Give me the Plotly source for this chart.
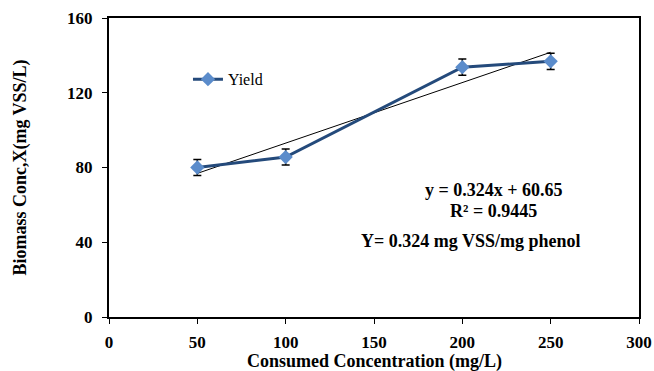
import plotly.graph_objects as go

conc = [50, 100, 200, 250]
biomass = [80.0, 85.6, 133.7, 136.8]
err = [4.3, 4.3, 4.3, 4.3]
slope = 0.324
intercept = 60.65
trend_x = [50, 250]
trend_y = [slope * x + intercept for x in trend_x]
x_ticks = [0, 50, 100, 150, 200, 250, 300]
y_ticks = [0, 40, 80, 120, 160]

font = "Liberation Serif, Times New Roman, serif"

fig = go.Figure()
fig.add_trace(go.Scatter(
    x=trend_x, y=trend_y, mode="lines",
    line=dict(color="black", width=1), showlegend=False, hoverinfo="skip"))
fig.add_trace(go.Scatter(
    x=conc, y=biomass, mode="lines+markers", name="Yield",
    line=dict(color="#244a7b", width=3),
    marker=dict(symbol="diamond", size=11, color="#5b8ccb"),
    error_y=dict(type="data", array=err, color="black", thickness=1.5, width=4)))

fig.update_layout(
    width=654, height=371,
    margin=dict(l=109, r=15, t=18, b=54),
    paper_bgcolor="white", plot_bgcolor="white",
    font=dict(family=font, color="black"),
    legend=dict(x=0.149, y=0.795, xanchor="left", yanchor="middle",
                bgcolor="rgba(0,0,0,0)", font=dict(size=16, family=font)),
    xaxis=dict(range=[0, 300], tickvals=x_ticks, showgrid=False, zeroline=False,
               showline=True, linecolor="black", linewidth=2, mirror=True,
               ticks="outside", ticklen=5, tickcolor="black", automargin=False,
               ticklabelstandoff=4,
               tickfont=dict(size=17, family=font, weight="bold")),
    yaxis=dict(range=[0, 160], tickvals=y_ticks, showgrid=False, zeroline=False,
               showline=True, linecolor="black", linewidth=2, mirror=True,
               ticks="outside", ticklen=5, tickcolor="black", automargin=False,
               ticklabelstandoff=6,
               tickfont=dict(size=17, family=font, weight="bold"),
               title=dict(text="<b>Biomass Conc,X(mg VSS/L)</b>",
                          font=dict(size=18, family=font), standoff=36)),
)

# x-axis title placed just under the tick labels
fig.add_annotation(x=0.5, y=-0.15, xref="paper", yref="paper",
                   xanchor="center", yanchor="middle",
                   text="<b>Consumed Concentration (mg/L)</b>", showarrow=False,
                   font=dict(size=18, family=font))

ann_font = dict(size=18, family=font)
fig.add_annotation(x=0.726, y=0.426, xref="paper", yref="paper",
                   xanchor="center", yanchor="middle",
                   text="<b>y = 0.324x + 60.65</b>", showarrow=False, font=ann_font)
fig.add_annotation(x=0.726, y=0.355, xref="paper", yref="paper",
                   xanchor="center", yanchor="middle",
                   text="<b>R² = 0.9445</b>", showarrow=False, font=ann_font)
fig.add_annotation(x=0.683, y=0.255, xref="paper", yref="paper",
                   xanchor="center", yanchor="middle",
                   text="<b>Y= 0.324 mg VSS/mg phenol</b>", showarrow=False, font=ann_font)

fig.write_html("out.html")
